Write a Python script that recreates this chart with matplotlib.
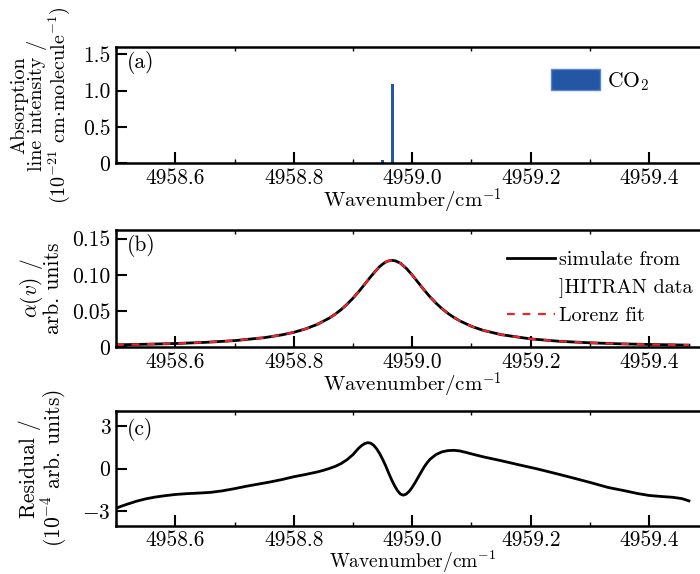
import matplotlib
matplotlib.use("Agg")
import matplotlib.pyplot as plt
from matplotlib.patches import Patch
from matplotlib.lines import Line2D
from matplotlib.ticker import MultipleLocator

plt.rcParams['font.family'] = 'serif'
plt.rcParams['font.serif'] = ['cmr10', 'DejaVu Serif']
plt.rcParams['mathtext.fontset'] = 'cm'
plt.rcParams['axes.unicode_minus'] = False
plt.rcParams['font.size'] = 15.5

# (a) HITRAN line positions / intensities (1e-21 cm/molecule)
line_pos = [4958.950, 4958.967]
line_int = [0.04, 1.085]

# (b) absorption profile, simulated from HITRAN (arb. units)
wn_b = [4958.50, 4958.55, 4958.60, 4958.65, 4958.70, 4958.75, 4958.78, 4958.80,
        4958.82, 4958.84, 4958.86, 4958.87, 4958.88, 4958.89, 4958.90, 4958.91,
        4958.92, 4958.93, 4958.94, 4958.945, 4958.95, 4958.955, 4958.96, 4958.966,
        4958.972, 4958.98, 4958.99, 4959.00, 4959.01, 4959.02, 4959.03, 4959.04,
        4959.05, 4959.06, 4959.07, 4959.08, 4959.10, 4959.12, 4959.15, 4959.20,
        4959.25, 4959.30, 4959.35, 4959.40, 4959.467]
alpha_sim = [0.0030, 0.0038, 0.0048, 0.0064, 0.0088, 0.0129, 0.0168, 0.0203,
             0.0251, 0.0314, 0.0400, 0.0455, 0.0518, 0.0592, 0.0676, 0.0770,
             0.0872, 0.0975, 0.1070, 0.1113, 0.1148, 0.1175, 0.1192, 0.1200,
             0.1192, 0.1160, 0.1089, 0.0996, 0.0893, 0.0790, 0.0694, 0.0608,
             0.0532, 0.0467, 0.0411, 0.0363, 0.0286, 0.0230, 0.0171, 0.0112,
             0.0078, 0.0058, 0.0044, 0.0035, 0.0026]
alpha_fit = alpha_sim

# (c) residual (1e-4 arb. units)
wn_c = [4958.50, 4958.51, 4958.52, 4958.535, 4958.55, 4958.565, 4958.58, 4958.60,
        4958.62, 4958.64, 4958.66, 4958.68, 4958.70, 4958.72, 4958.74, 4958.76,
        4958.78, 4958.80, 4958.82, 4958.84, 4958.85, 4958.86, 4958.87, 4958.88,
        4958.89, 4958.90, 4958.905, 4958.91, 4958.915, 4958.92, 4958.925, 4958.93,
        4958.935, 4958.94, 4958.945, 4958.95, 4958.955, 4958.96, 4958.965, 4958.97,
        4958.975, 4958.98, 4958.985, 4958.99, 4958.995, 4959.00, 4959.005, 4959.01,
        4959.015, 4959.02, 4959.025, 4959.03, 4959.04, 4959.05, 4959.06, 4959.07,
        4959.08, 4959.09, 4959.10, 4959.12, 4959.15, 4959.18, 4959.21, 4959.24,
        4959.27, 4959.30, 4959.33, 4959.36, 4959.38, 4959.40, 4959.42, 4959.44,
        4959.455, 4959.467]
resid = [-2.80, -2.64, -2.50, -2.30, -2.14, -2.02, -1.93, -1.83,
         -1.77, -1.73, -1.68, -1.57, -1.42, -1.25, -1.10, -0.95,
         -0.78, -0.58, -0.42, -0.24, -0.13, 0.00, 0.15, 0.35,
         0.62, 0.98, 1.22, 1.45, 1.63, 1.76, 1.82, 1.78,
         1.63, 1.38, 1.05, 0.65, 0.20, -0.30, -0.78, -1.20,
         -1.55, -1.80, -1.88, -1.80, -1.60, -1.32, -0.98, -0.62,
         -0.25, 0.10, 0.40, 0.65, 0.98, 1.17, 1.26, 1.28,
         1.24, 1.14, 1.03, 0.82, 0.55, 0.26, -0.02, -0.33,
         -0.65, -0.98, -1.33, -1.58, -1.76, -1.90, -1.97, -2.03,
         -2.12, -2.28]

xticks = [4958.6, 4958.8, 4959.0, 4959.2, 4959.4]

W, H = 700, 574
fig = plt.figure(figsize=(7.0, 5.74), dpi=100)

def px_axes(top, bottom):
    left, right = 116, 708.5
    return fig.add_axes([left / W, 1 - bottom / H, (right - left) / W, (bottom - top) / H])

ax_a = px_axes(47, 163)
ax_b = px_axes(230, 347)
ax_c = px_axes(411, 526)

for ax in (ax_a, ax_b, ax_c):
    ax.set_xlim(4958.5, 4959.5)
    ax.set_xticks(xticks)
    ax.set_xticklabels(['%.1f' % t for t in xticks])
    ax.xaxis.set_minor_locator(MultipleLocator(0.1))
    for s in ax.spines.values():
        s.set_linewidth(1.8)
    ax.tick_params(which='major', direction='in', length=8, width=1.5, top=False, pad=4)
    ax.tick_params(which='minor', direction='in', length=3, width=1.0, top=True, bottom=True)
    ax.tick_params(axis='y', which='minor', left=False, right=False)
    ax.tick_params(axis='x', which='major', top=False)
    ax.set_xlabel('Wavenumber/cm$^{-1}$', labelpad=-1, fontsize=15)
ax_c.tick_params(axis='x', which='major', pad=3)
ax_c.set_xlabel('Wavenumber/cm$^{-1}$', labelpad=-0.5, fontsize=14)

# (a)
ax_a.bar(line_pos, line_int, width=0.005, color='#2456a6')
ax_a.set_ylim(0, 1.6)
ax_a.set_yticks([0, 0.5, 1.0, 1.5])
ax_a.set_yticklabels(['0', '0.5', '1.0', '1.5'])
ax_a.set_ylabel('Absorption\nline intensity /\n(10$^{-21}$ cm$\\cdot$molecule$^{-1}$)',
                linespacing=0.95, fontsize=14.5)
ax_a.yaxis.set_label_coords(-0.074, 0.5)
ax_a.text(0.018, 0.87, '(a)', transform=ax_a.transAxes, va='center', ha='left')
ax_a.legend(handles=[Patch(facecolor='#2456a6', edgecolor='#5b86c8', label='CO$_2$')],
            loc='upper left', bbox_to_anchor=(0.734, 0.81), frameon=False,
            borderpad=0, borderaxespad=0, handlelength=2.3, handleheight=1.15,
            handletextpad=0.3)

# (b)
ax_b.plot(wn_b, alpha_sim, color='black', lw=2.0)
ax_b.plot(wn_b, alpha_fit, color='#e8262b', lw=1.6, ls=(0, (3.5, 3.5)))
ax_b.set_ylim(0, 0.162)
ax_b.set_yticks([0, 0.05, 0.10, 0.15])
ax_b.set_yticklabels(['0', '0.05', '0.10', '0.15'])
ax_b.set_ylabel('$\\alpha(v)$ /\narb. units', linespacing=0.92)
ax_b.yaxis.set_label_coords(-0.089, 0.5)
ax_b.text(0.018, 0.87, '(b)', transform=ax_b.transAxes, va='center', ha='left')
ax_b.legend(handles=[Line2D([], [], color='black', lw=2.0, label='simulate from'),
                     Line2D([], [], color='none', label=']HITRAN data'),
                     Line2D([], [], color='#e8262b', lw=1.6, ls=(0, (3.5, 3.5)), label='Lorenz fit')],
            loc='upper left', bbox_to_anchor=(0.66, 0.82), frameon=False,
            borderpad=0, borderaxespad=0, handlelength=2.4, handletextpad=0.2,
            labelspacing=0.45, fontsize=14.5)

# (c)
ax_c.plot(wn_c, resid, color='black', lw=2.0)
ax_c.set_ylim(-4.05, 4.05)
ax_c.set_yticks([-3, 0, 3])
ax_c.set_yticklabels(['$-3$', '0', '3'])
ax_c.set_ylabel('Residual /\n(10$^{-4}$ arb. units)', linespacing=0.92)
ax_c.yaxis.set_label_coords(-0.079, 0.5)
ax_c.text(0.018, 0.84, '(c)', transform=ax_c.transAxes, va='center', ha='left')

fig.savefig('out.png', dpi=100)
